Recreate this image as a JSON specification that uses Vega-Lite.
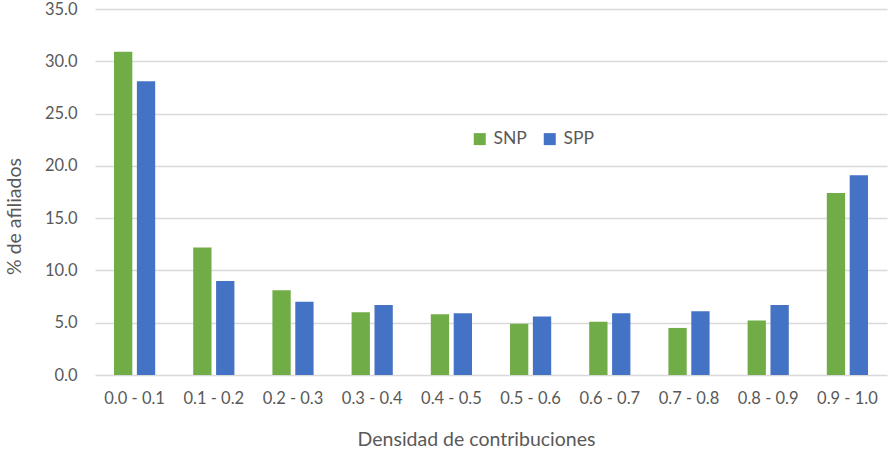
{
  "$schema": "https://vega.github.io/schema/vega-lite/v6.json",
  "autosize": "none",
  "width": 792,
  "height": 366,
  "padding": {"left": 95, "top": 9, "right": 9, "bottom": 75},
  "background": "white",
  "config": {
    "view": {"stroke": null},
    "font": "Lato",
    "axis": {"labelColor": "#595959", "titleColor": "#595959", "labelFont": "Lato", "titleFont": "Lato", "titleFontWeight": "normal"},
    "legend": {"labelColor": "#595959", "labelFont": "Lato"}
  },
  "data": {
    "values": [
      {"cat": "0.0 - 0.1", "serie": "SNP", "v": 30.9},
      {"cat": "0.0 - 0.1", "serie": "SPP", "v": 28.1},
      {"cat": "0.1 - 0.2", "serie": "SNP", "v": 12.2},
      {"cat": "0.1 - 0.2", "serie": "SPP", "v": 9.0},
      {"cat": "0.2 - 0.3", "serie": "SNP", "v": 8.1},
      {"cat": "0.2 - 0.3", "serie": "SPP", "v": 7.0},
      {"cat": "0.3 - 0.4", "serie": "SNP", "v": 6.0},
      {"cat": "0.3 - 0.4", "serie": "SPP", "v": 6.7},
      {"cat": "0.4 - 0.5", "serie": "SNP", "v": 5.8},
      {"cat": "0.4 - 0.5", "serie": "SPP", "v": 5.9},
      {"cat": "0.5 - 0.6", "serie": "SNP", "v": 4.9},
      {"cat": "0.5 - 0.6", "serie": "SPP", "v": 5.6},
      {"cat": "0.6 - 0.7", "serie": "SNP", "v": 5.1},
      {"cat": "0.6 - 0.7", "serie": "SPP", "v": 5.9},
      {"cat": "0.7 - 0.8", "serie": "SNP", "v": 4.5},
      {"cat": "0.7 - 0.8", "serie": "SPP", "v": 6.1},
      {"cat": "0.8 - 0.9", "serie": "SNP", "v": 5.2},
      {"cat": "0.8 - 0.9", "serie": "SPP", "v": 6.7},
      {"cat": "0.9 - 1.0", "serie": "SNP", "v": 17.4},
      {"cat": "0.9 - 1.0", "serie": "SPP", "v": 19.1}
    ]
  },
  "mark": {"type": "bar"},
  "encoding": {
    "x": {
      "field": "cat",
      "type": "nominal",
      "sort": null,
      "scale": {"paddingInner": 0.48, "paddingOuter": 0.24},
      "axis": {
        "title": "Densidad de contribuciones",
        "labelAngle": 0,
        "labelFontSize": 16.5,
        "labelPadding": 15,
        "domain": false,
        "ticks": false,
        "titleFontSize": 19.5,
        "titleX": 381,
        "titleY": 70,
        "titleBaseline": "alphabetic",
        "titleAlign": "center"
      }
    },
    "xOffset": {
      "field": "serie",
      "type": "nominal",
      "sort": ["SNP", "SPP"],
      "scale": {"paddingInner": 0.2, "paddingOuter": 0}
    },
    "y": {
      "field": "v",
      "type": "quantitative",
      "scale": {"domain": [0, 35], "nice": false},
      "axis": {
        "title": "% de afiliados",
        "values": [0, 5, 10, 15, 20, 25, 30, 35],
        "format": ".1f",
        "labelFontSize": 16.5,
        "labelPadding": 18,
        "domain": false,
        "ticks": false,
        "grid": true,
        "gridColor": "#D9D9D9",
        "gridWidth": 1.3,
        "titleFontSize": 19.5,
        "titleAngle": -90,
        "titleX": -81,
        "titleY": 207,
        "titleAlign": "center",
        "titleBaseline": "middle"
      }
    },
    "color": {
      "field": "serie",
      "type": "nominal",
      "sort": ["SNP", "SPP"],
      "scale": {"domain": ["SNP", "SPP"], "range": ["#70AD47", "#4472C4"]},
      "legend": {
        "title": null,
        "orient": "none",
        "direction": "horizontal",
        "legendX": 376,
        "legendY": 121,
        "padding": 0,
        "symbolType": "square",
        "symbolSize": 144,
        "symbolStrokeWidth": 0,
        "labelFontSize": 17.5,
        "labelOffset": 5,
        "columnPadding": 14
      }
    }
  }
}
